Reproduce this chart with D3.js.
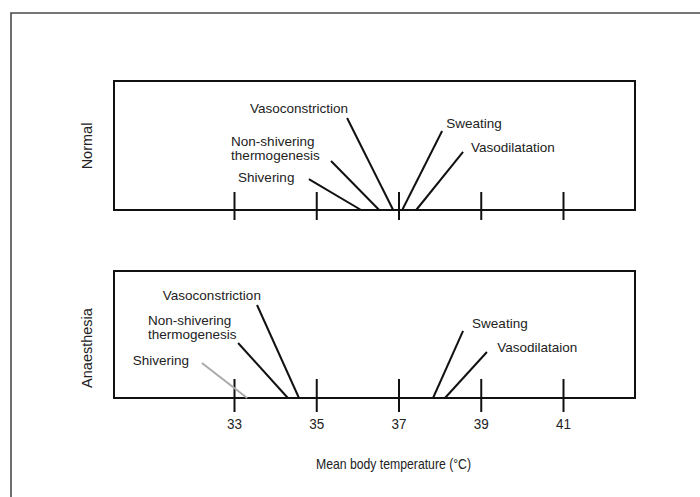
<!DOCTYPE html>
<html>
<head>
<meta charset="utf-8">
<script src="https://cdn.jsdelivr.net/npm/d3@7"></script>
<style>
  html, body { margin: 0; padding: 0; background: #fff; }
  svg { display: block; font-family: "Liberation Sans", Arial, Helvetica, sans-serif; }
</style>
</head>
<body>
<svg id="chart" width="700" height="497"></svg>
<script>
// ---- data ----
const categories = ["Shivering", "Non-shivering thermogenesis", "Vasoconstriction", "Sweating", "Vasodilatation"];
const normalLabels = ["Shivering", "Non-shivering|thermogenesis", "Vasoconstriction", "Sweating", "Vasodilatation"];
const anaesthesiaLabels = ["Shivering", "Non-shivering|thermogenesis", "Vasoconstriction", "Sweating", "Vasodilataion"];
const normalThresholds = [36.09, 36.53, 36.87, 37.09, 37.43];
const anaesthesiaThresholds = [33.32, 34.31, 34.58, 37.84, 38.13];
const tickValues = [33, 35, 37, 39, 41];
const panelNames = ["Normal", "Anaesthesia"];
const xTitle = "Mean body temperature (\u00B0C)";

// ---- annotation layout (temperature, fraction of panel height) ----
const normalLeaderTop = [[34.82, 0.24], [35.36, 0.38], [35.75, 0.713], [38.06, 0.612], [38.57, 0.45]];
const normalLabelPos = [[33.10, 0.256], [32.93, 0.535], [33.39, 0.79], [38.16, 0.674], [38.76, 0.488]];
const anaLeaderTop = [[32.22, 0.276], [33.10, 0.433], [33.56, 0.732], [38.57, 0.528], [39.15, 0.362]];
const anaLabelPos = [[30.54, 0.299], [30.91, 0.614], [31.27, 0.811], [38.79, 0.591], [39.40, 0.402]];
const anaLeaderColor = ["#aaa", "#111", "#111", "#111", "#111"];

const svg = d3.select("#chart");
const W = 700, H = 497;

// outer frame (left and top edges visible)
svg.append("path")
  .attr("d", `M11,${H} L11,13 L${W},13`)
  .attr("fill", "none").attr("stroke", "#4a4a4a").attr("stroke-width", 1.6);

const x = d3.scaleLinear().domain([33, 41]).range([234, 563]);
const boxLeft = 114, boxRight = 635;

const panels = [
  { name: panelNames[0], top: 81, bottom: 210, thr: normalThresholds, labels: normalLabels,
    lead: normalLeaderTop, pos: normalLabelPos, colors: ["#111","#111","#111","#111","#111"],
    showLabels: false, tickUp: 18, tickDown: 10, nameY: 146 },
  { name: panelNames[1], top: 271, bottom: 398, thr: anaesthesiaThresholds, labels: anaesthesiaLabels,
    lead: anaLeaderTop, pos: anaLabelPos, colors: anaLeaderColor,
    showLabels: true, tickUp: 19, tickDown: 14, nameY: 348 }
];

const fontSize = 13.5;
const textColor = "#222";

panels.forEach(p => {
  const y = d3.scaleLinear().domain([0, 1]).range([p.bottom, p.top]);
  const g = svg.append("g");

  // box
  g.append("rect")
    .attr("x", boxLeft).attr("y", p.top)
    .attr("width", boxRight - boxLeft).attr("height", p.bottom - p.top)
    .attr("fill", "none").attr("stroke", "#111").attr("stroke-width", 2);

  // axis ticks
  const axis = d3.axisBottom(x).tickValues(tickValues).tickSizeOuter(0)
    .tickSize(p.tickDown).tickPadding(6)
    .tickFormat(p.showLabels ? d3.format("d") : () => "");
  const ag = g.append("g").attr("transform", `translate(0,${p.bottom})`).call(axis);
  ag.select(".domain").remove();
  ag.selectAll(".tick line").attr("y1", -p.tickUp).attr("stroke", "#111").attr("stroke-width", 2);
  ag.selectAll(".tick text")
    .attr("font-size", 15).attr("fill", textColor)
    .attr("font-family", "'Liberation Sans', Arial, sans-serif")
    .attr("textLength", 15).attr("lengthAdjust", "spacingAndGlyphs");

  // leader lines
  g.selectAll("line.leader").data(p.thr).join("line")
    .attr("class", "leader")
    .attr("x1", d => x(d)).attr("y1", p.bottom)
    .attr("x2", (d, i) => x(p.lead[i][0])).attr("y2", (d, i) => y(p.lead[i][1]))
    .attr("stroke", (d, i) => p.colors[i]).attr("stroke-width", 2);

  // labels
  const lab = g.selectAll("text.lab").data(p.labels).join("text")
    .attr("class", "lab")
    .attr("x", (d, i) => x(p.pos[i][0]))
    .attr("y", (d, i) => y(p.pos[i][1]))
    .attr("font-size", fontSize).attr("fill", textColor);
  lab.each(function(d, i) {
    const parts = d.split("|");
    const t = d3.select(this);
    parts.forEach((s, k) => {
      t.append("tspan")
        .attr("x", x(p.pos[i][0]))
        .attr("dy", k === 0 ? "0.35em" : "1.05em")
        .text(s);
    });
  });

  // panel name
  svg.append("text")
    .attr("transform", `translate(87,${p.nameY}) rotate(-90)`)
    .attr("text-anchor", "middle").attr("dy", "0.35em")
    .attr("font-size", 14.5).attr("fill", textColor)
    .text(p.name);
});

// x axis title
svg.append("text")
  .attr("x", 316).attr("y", 469)
  .attr("font-size", 14.5).attr("fill", textColor)
  .attr("textLength", 155).attr("lengthAdjust", "spacingAndGlyphs")
  .text(xTitle);
</script>
</body>
</html>
